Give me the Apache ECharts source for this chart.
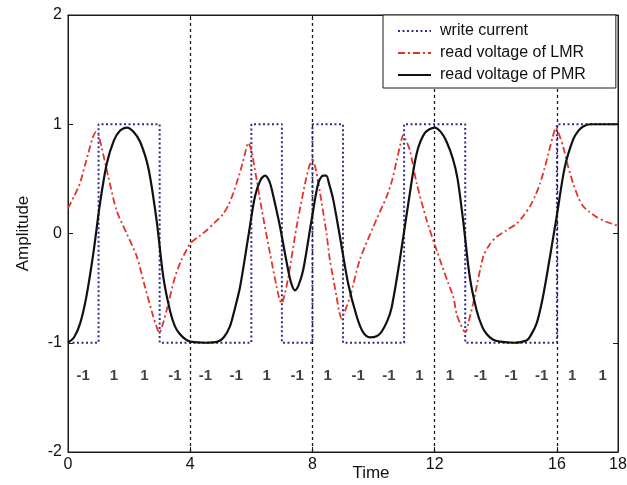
<!DOCTYPE html>
<html lang="en" style="height: 100%">
<head>
  <meta charset="utf-8">
</head>
<body style="height: 100%; margin: 0; background-color: #fff">
  <div id="container" style="width: 627px; height: 485px"></div>
  <script type="text/javascript" src="https://cdn.jsdelivr.net/npm/echarts@6.0.0/dist/echarts.min.js"></script>
  <script type="text/javascript">
    // bit sequence written (also the write current level of each bit cell)
    var bits = [-1, 1, 1, -1, -1, -1, 1, -1, 1, -1, -1, 1, 1, -1, -1, -1, 1, 1];
    var xTicks = [0, 4, 8, 12, 16, 18];
    var yTicks = [-2, -1, 0, 1, 2];
    var bitLabelY = -1.3;
    var dividers = [4, 8, 12, 16];

    // read voltage of LMR
    var lmr = [[0,0.23],[0.2,0.34],[0.39,0.46],[0.55,0.62],[0.66,0.73],[0.8,0.87],[0.92,0.93],[1.0,0.9],[1.1,0.79],
      [1.32,0.52],[1.59,0.21],[1.92,0.0],[2.25,-0.21],[2.52,-0.49],[2.79,-0.76],[2.92,-0.87],[2.99,-0.91],[3.08,-0.85],
      [3.23,-0.7],[3.5,-0.4],[3.7,-0.25],[3.88,-0.15],[4.0,-0.09],[4.32,-0.02],[4.54,0.03],[4.8,0.1],[5.08,0.18],
      [5.25,0.26],[5.41,0.37],[5.55,0.49],[5.68,0.61],[5.8,0.74],[5.9,0.83],[6.0,0.76],[6.12,0.58],[6.34,0.22],
      [6.61,-0.18],[6.83,-0.49],[6.92,-0.6],[6.99,-0.64],[7.08,-0.57],[7.21,-0.4],[7.48,0.06],[7.76,0.46],[7.9,0.62],
      [8.01,0.67],[8.1,0.6],[8.25,0.37],[8.46,0.0],[8.57,-0.24],[8.79,-0.58],[8.88,-0.72],[8.96,-0.78],[9.05,-0.72],
      [9.23,-0.58],[9.55,-0.24],[9.99,0.06],[10.43,0.34],[10.6,0.48],[10.76,0.67],[10.88,0.82],[10.97,0.9],[11.05,0.86],
      [11.19,0.76],[11.41,0.46],[11.74,0.12],[12.06,-0.15],[12.45,-0.46],[12.61,-0.58],[12.72,-0.74],[12.83,-0.82],
      [12.95,-0.89],[13.02,-0.9],[13.1,-0.82],[13.26,-0.64],[13.59,-0.21],[13.8,-0.1],[14.03,-0.03],[14.35,0.03],
      [14.68,0.09],[14.9,0.16],[15.12,0.25],[15.3,0.35],[15.45,0.46],[15.6,0.6],[15.72,0.73],[15.85,0.87],[15.97,0.97],
      [16.08,0.9],[16.21,0.79],[16.35,0.63],[16.53,0.46],[16.7,0.33],[16.86,0.25],[17.05,0.2],[17.3,0.15],[17.6,0.11],[18,0.07]];

    // read voltage of PMR
    var pmr = [[0,-1],[0.2,-0.95],[0.4,-0.82],[0.6,-0.58],[0.83,-0.18],[1.05,0.28],[1.27,0.64],[1.5,0.85],[1.7,0.94],
      [1.93,0.97],[2.15,0.93],[2.36,0.84],[2.63,0.6],[2.9,0.12],[3.12,-0.4],[3.34,-0.71],[3.5,-0.85],[3.66,-0.92],
      [3.85,-0.97],[4.0,-0.99],[4.5,-1],[4.9,-0.99],[5.1,-0.95],[5.3,-0.85],[5.45,-0.7],[5.63,-0.49],[5.9,-0.03],
      [6.12,0.34],[6.3,0.49],[6.45,0.53],[6.6,0.47],[6.72,0.34],[6.94,0.06],[7.16,-0.27],[7.3,-0.45],[7.43,-0.52],
      [7.55,-0.47],[7.7,-0.33],[7.97,0.12],[8.19,0.46],[8.35,0.53],[8.45,0.53],[8.55,0.45],[8.68,0.31],[8.9,-0.03],
      [9.17,-0.46],[9.45,-0.76],[9.65,-0.9],[9.88,-0.95],[10.1,-0.94],[10.26,-0.9],[10.45,-0.8],[10.59,-0.68],
      [10.86,-0.24],[11.14,0.28],[11.41,0.73],[11.68,0.92],[12.0,0.97],[12.2,0.93],[12.39,0.84],[12.6,0.68],[12.75,0.5],
      [12.94,0.1],[13.15,-0.4],[13.37,-0.7],[13.55,-0.85],[13.7,-0.92],[13.9,-0.97],[14.14,-0.99],[14.6,-1],[15.0,-0.98],
      [15.15,-0.93],[15.34,-0.82],[15.5,-0.64],[15.66,-0.4],[15.99,0.15],[16.26,0.61],[16.53,0.86],[16.7,0.94],
      [16.86,0.98],[17.1,1.0],[17.5,1.0],[18,1.0]];

    var dom = document.getElementById('container');
    var myChart = echarts.init(dom, null, { renderer: 'canvas' });

    // step line of the write current, one cell per bit
    var writeData = bits.map(function (b, i) { return [i, b]; });
    writeData.push([bits.length, bits[bits.length - 1]]);

    var bitLabels = bits.map(function (b, i) { return [i + 0.5, bitLabelY, b]; });

    var font = 'Arial, "Liberation Sans", sans-serif';
    var ink = '#1a1a1a';

    var option = {
      animation: false,
      grid: {
        left: 68, right: 9, top: 15, bottom: 33,
        outerBoundsMode: 'none',
        show: true, borderColor: ink, borderWidth: 1
      },
      legend: {
        orient: 'vertical',
        left: 383,
        top: 15,
        z: 50,
        itemWidth: 33,
        itemHeight: 12,
        itemGap: 6,
        padding: [8, 30, 5, 14],
        backgroundColor: '#fff',
        borderColor: ink,
        borderWidth: 1,
        borderRadius: 0,
        itemStyle: { opacity: 0 },
        textStyle: { fontFamily: font, fontSize: 16, color: '#111', padding: [0, 0, 0, 4] },
        data: ['write current', 'read voltage of LMR', 'read voltage of PMR']
      },
      xAxis: [{
        type: 'value', min: 0, max: 18, interval: 2,
        name: 'Time', nameLocation: 'middle', nameGap: 13, nameMoveOverlap: false,
        nameTextStyle: { fontFamily: font, fontSize: 17, color: '#111', padding: [0, 0, 0, 56] },
        splitLine: { show: false },
        axisLine: { show: true, onZero: false, lineStyle: { color: ink } },
        axisTick: { inside: true, length: 5, customValues: xTicks, lineStyle: { color: ink } },
        axisLabel: { customValues: xTicks, fontFamily: font, fontSize: 16, color: '#111', margin: 5 }
      }, {
        type: 'value', min: 0, max: 18, position: 'top',
        splitLine: { show: false },
        axisLine: { show: true, onZero: false, lineStyle: { color: ink } },
        axisTick: { inside: true, length: 5, customValues: xTicks, lineStyle: { color: ink } },
        axisLabel: { show: false }
      }],
      yAxis: [{
        type: 'value', min: -2, max: 2, interval: 1,
        name: 'Amplitude', nameLocation: 'middle', nameGap: 36,
        nameTextStyle: { fontFamily: font, fontSize: 17, color: '#111' },
        splitLine: { show: false },
        axisLine: { show: true, onZero: false, lineStyle: { color: ink } },
        axisTick: { inside: true, length: 5, lineStyle: { color: ink } },
        axisLabel: { fontFamily: font, fontSize: 16, color: '#111', margin: 6 }
      }, {
        type: 'value', min: -2, max: 2, interval: 1, position: 'right',
        splitLine: { show: false },
        axisLine: { show: true, onZero: false, lineStyle: { color: ink } },
        axisTick: { inside: true, length: 5, lineStyle: { color: ink } },
        axisLabel: { show: false }
      }],
      series: [{
        name: 'write current',
        type: 'line',
        step: 'end',
        symbol: 'none',
        data: writeData,
        lineStyle: { color: '#2b2f8f', width: 2, type: [2, 2.5] },
        itemStyle: { color: '#2b2f8f' },
        z: 2,
        markLine: {
          silent: true,
          symbol: 'none',
          z: 1,
          label: { show: false },
          lineStyle: { color: ink, width: 1.3, type: [3, 3] },
          data: dividers.map(function (d) { return { xAxis: d }; })
        }
      }, {
        name: 'read voltage of LMR',
        type: 'line',
        smooth: 0.25,
        symbol: 'none',
        data: lmr,
        lineStyle: { color: '#e3342a', width: 1.8, type: [7, 3, 2, 3] },
        itemStyle: { color: '#e3342a' },
        z: 3
      }, {
        name: 'read voltage of PMR',
        type: 'line',
        smooth: 0.3,
        symbol: 'none',
        data: pmr,
        lineStyle: { color: '#111', width: 2.2 },
        itemStyle: { color: '#111' },
        z: 4
      }, {
        name: 'bits',
        type: 'scatter',
        symbolSize: 0,
        data: bitLabels,
        silent: true,
        label: {
          show: true,
          position: 'inside',
          formatter: function (p) { return String(p.value[2]); },
          fontFamily: font, fontSize: 15, fontWeight: 'bold', color: '#111'
        }
      }]
    };

    myChart.setOption(option);
    window.addEventListener('resize', myChart.resize);
  </script>
</body>
</html>
